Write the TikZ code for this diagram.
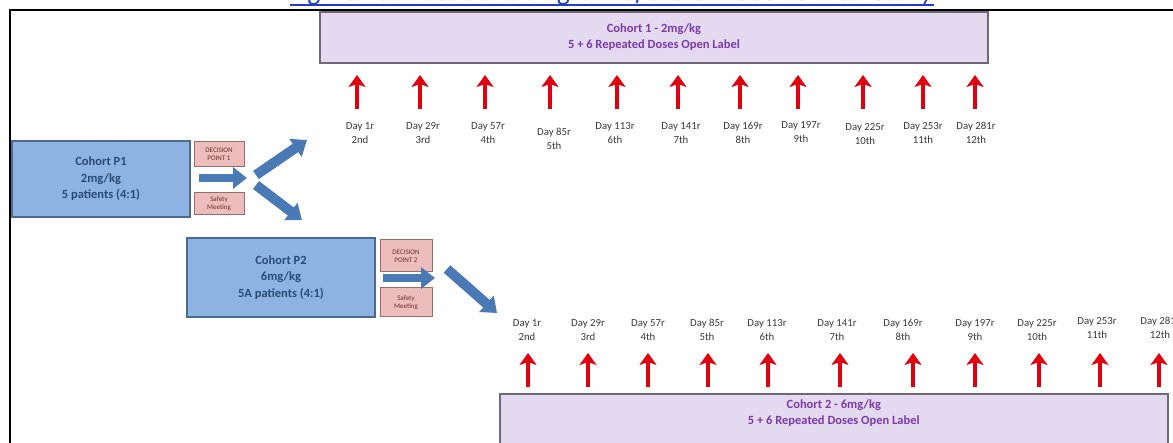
\documentclass[tikz,border=0pt]{standalone}
\usepackage{fontspec}
\setmainfont{Carlito}
\usetikzlibrary{arrows.meta}
\definecolor{lav}{HTML}{E3DAEF}
\definecolor{lavborder}{HTML}{6E6878}
\definecolor{purpletext}{HTML}{7A3AA8}
\definecolor{bluefill}{HTML}{8DB3E2}
\definecolor{blueborder}{HTML}{4A6A90}
\definecolor{bluetext}{HTML}{2A4A74}
\definecolor{pinkfill}{HTML}{EDBDBD}
\definecolor{pinkborder}{HTML}{9A6B6B}
\definecolor{pinktext}{HTML}{6B2B2B}
\definecolor{blockblue}{HTML}{4A7AB5}
\definecolor{arrowred}{HTML}{E0000E}
\definecolor{daytext}{HTML}{3A3A3A}
\definecolor{titleblue}{HTML}{1F3FC0}
\tikzset{
  cohortbar/.style={draw=lavborder, line width=1.6pt, fill=lav, text=purpletext,
    font=\bfseries\fontsize{12.5}{16}\selectfont, align=center, inner sep=0pt},
  pbox/.style={draw=blueborder, line width=1.2pt, fill=bluefill, text=bluetext,
    font=\bfseries\fontsize{12.5}{16.5}\selectfont, align=center, inner sep=0pt},
  smallbox/.style={draw=pinkborder, line width=1pt, fill=pinkfill, text=pinktext,
    font=\fontsize{7}{8}\selectfont, align=center, inner sep=0pt, minimum width=50pt},
  blockarrow/.style={draw=blockblue, line width=9pt,
    -{Triangle[length=14pt,width=21pt]}},
  redarrow/.style={line width=4pt, draw=arrowred,
    -{Stealth[length=12pt,width=17pt,inset=3pt]}},
  daylabel/.style={text=daytext, font=\fontsize{10.8}{14.5}\selectfont, align=center, inner sep=0pt},
  frameline/.style={line width=2.2pt, draw=black},
  titletext/.style={text=titleblue, font=\itshape\fontsize{26.5}{30}\selectfont, inner sep=0pt, anchor=base}
}
\begin{document}
\begin{tikzpicture}[x=1pt,y=-1pt]
\useasboundingbox (0,0) rectangle (1173,443);
\clip (0,0) rectangle (1173,443);
\fill[white] (0,0) rectangle (1173,443);

% title (cut off at the top)
\node[titletext] (title) at (612,1) {Figure 20: Illustrative diagram of the GMI0002 clinical study};
\draw[titleblue, line width=1.6pt] ([yshift=-4pt]title.base west) -- ([yshift=-4pt]title.base east);

% frame
\coordinate (fr1) at (1180,10);
\coordinate (fr2) at (10,10);
\coordinate (fr3) at (10,450);
\draw[frameline] (fr1) -- (fr2) -- (fr3);

% cohort bars
\node[cohortbar, minimum width=668pt, minimum height=51pt] (c1) at (654,37.5)
  {Cohort 1 - 2mg/kg\\5 + 6 Repeated Doses Open Label};
\node[cohortbar, minimum width=668pt, minimum height=56pt, anchor=north west] (c2) at (499,393)
  {Cohort 2 - 6mg/kg\\5 + 6 Repeated Doses Open Label\\[4pt]};

% pilot cohorts
\node[pbox, minimum width=178pt, minimum height=76pt] (p1) at (101,179)
  {Cohort P1\\2mg/kg\\5 patients (4:1)};
\node[pbox, minimum width=188pt, minimum height=79pt] (p2) at (281,277.5)
  {Cohort P2\\6mg/kg\\5A patients (4:1)};

% decision / safety boxes
\node[smallbox, minimum height=25pt] (d1) at (219,154.5) {DECISION\\POINT 1};
\node[smallbox, minimum height=22pt] (s1) at (219,204) {Safety\\Meeting};
\node[smallbox, minimum width=52pt, minimum height=32pt] (d2) at (406,256) {DECISION\\POINT 2};
\node[smallbox, minimum width=52pt, minimum height=29pt] (s2) at (406,302.5) {Safety\\Meeting};

% block arrows
\coordinate (a1s) at (199,178);  \coordinate (a1e) at (247,178);
\coordinate (a2s) at (256,175);  \coordinate (a2e) at (307,140);
\coordinate (a3s) at (256,185);  \coordinate (a3e) at (302,220);
\coordinate (a4s) at (383,278);  \coordinate (a4e) at (435,278);
\coordinate (a5s) at (447,269);  \coordinate (a5e) at (497,313);
\draw[blockarrow, line width=8pt] (a1s) -- (a1e);
\draw[blockarrow, line width=10pt] (a2s) -- (a2e);
\draw[blockarrow, line width=10pt] (a3s) -- (a3e);
\draw[blockarrow, line width=8pt] (a4s) -- (a4e);
\draw[blockarrow, line width=10pt] (a5s) -- (a5e);

% top dose arrows and labels
\foreach \i/\ax/\lx/\ly/\da/\nb in {
  1/357/360/133/1r/2nd,
  2/420/423/133/29r/3rd,
  3/485/488/133/57r/4th,
  4/550/554/139/85r/5th,
  5/617/615/133/113r/6th,
  6/678/681/133/141r/7th,
  7/740/743/133/169r/8th,
  8/798/801/132/197r/9th,
  9/863/865/134/225r/10th,
  10/923/923/133/253r/11th,
  11/975/976/133/281r/12th}{
  \coordinate (tb\i) at (\ax,109);
  \coordinate (tt\i) at (\ax,75);
  \draw[redarrow] (tb\i) -- (tt\i);
  \node[daylabel] (tl\i) at (\lx,\ly) {Day \da\\\nb};
}

% bottom dose arrows and labels
\foreach \i/\ax/\lx/\ly/\da/\nb in {
  1/528/527/330/1r/2nd,
  2/588/588/330/29r/3rd,
  3/648/648/330/57r/4th,
  4/708/707/330/85r/5th,
  5/768/767/330/113r/6th,
  6/840/837/330/141r/7th,
  7/913/903/330/169r/8th,
  8/975/975/330/197r/9th,
  9/1039/1037/330/225r/10th,
  10/1100/1097/328/253r/11th,
  11/1159/1160/328/281r/12th}{
  \coordinate (bb\i) at (\ax,387);
  \coordinate (bt\i) at (\ax,353);
  \draw[redarrow] (bb\i) -- (bt\i);
  \node[daylabel] (bl\i) at (\lx,\ly) {Day \da\\\nb};
}
\end{tikzpicture}
\end{document}
